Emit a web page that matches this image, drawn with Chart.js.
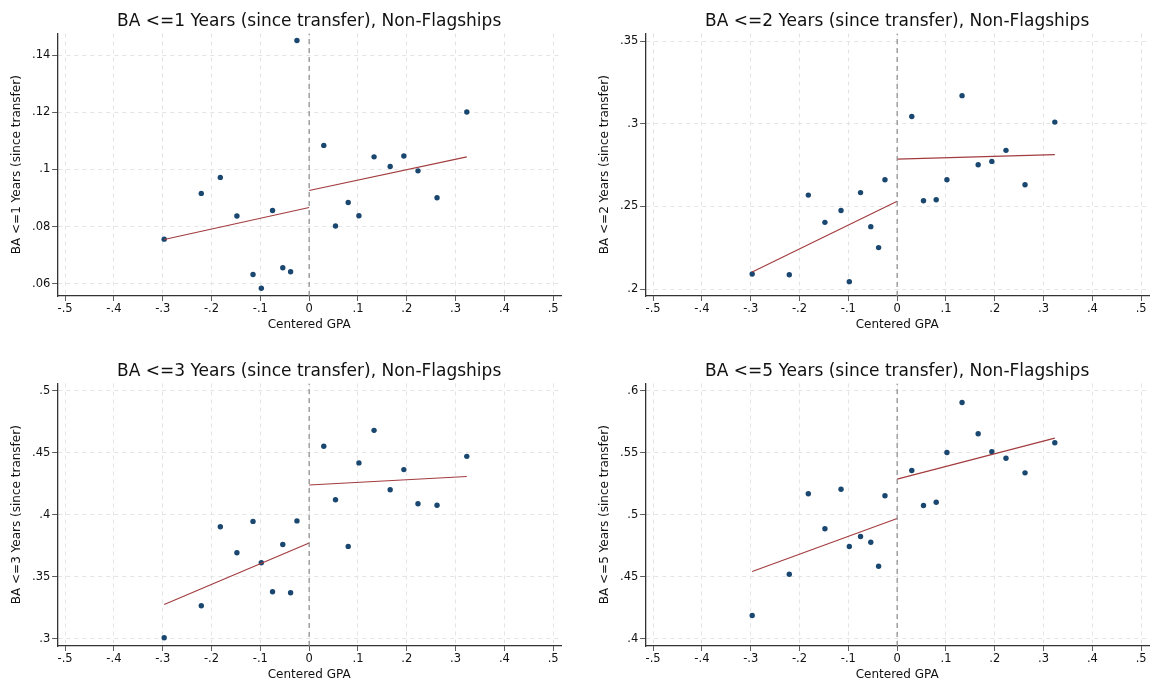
<!DOCTYPE html>
<html>
<head>
<meta charset="utf-8">
<script src="https://cdn.jsdelivr.net/npm/chart.js@4.4.1/dist/chart.umd.min.js"></script>
<style>
  body { margin: 0; background: #fff; }
  #wrap { position: relative; width: 1153px; height: 682px; }
  canvas { position: absolute; }
</style>
</head>
<body>
<div id="wrap">
  <canvas id="c1" width="565" height="340" style="left:0px;top:0px"></canvas>
  <canvas id="c2" width="565" height="340" style="left:588px;top:0px"></canvas>
  <canvas id="c3" width="565" height="340" style="left:0px;top:350px"></canvas>
  <canvas id="c4" width="565" height="340" style="left:588px;top:350px"></canvas>
</div>
<script>
// centered GPA bins (same for every panel)
var gpa = [-0.297, -0.221, -0.182, -0.148, -0.115, -0.098, -0.075, -0.054, -0.038, -0.025,
           0.030, 0.054, 0.080, 0.102, 0.133, 0.166, 0.194, 0.223, 0.262, 0.323]

var ba1 = [0.0756, 0.0916, 0.0972, 0.0837, 0.0632, 0.0584, 0.0856, 0.0656, 0.0642, 0.1451,
           0.1084, 0.0802, 0.0884, 0.0838, 0.1044, 0.1010, 0.1047, 0.0995, 0.0901, 0.1201]
var ba2 = [0.2091, 0.2087, 0.2569, 0.2404, 0.2476, 0.2045, 0.2584, 0.2378, 0.2251, 0.2662,
           0.3045, 0.2535, 0.2541, 0.2662, 0.3171, 0.2753, 0.2773, 0.2840, 0.2632, 0.3011]
var ba3 = [0.3006, 0.3265, 0.3903, 0.3693, 0.3946, 0.3612, 0.3378, 0.3760, 0.3370, 0.3950,
           0.4552, 0.4121, 0.3744, 0.4418, 0.4681, 0.4202, 0.4364, 0.4089, 0.4076, 0.4471]
var ba5 = [0.4186, 0.4519, 0.5169, 0.4886, 0.5206, 0.4743, 0.4824, 0.4778, 0.4584, 0.5153,
           0.5357, 0.5074, 0.5101, 0.5502, 0.5906, 0.5653, 0.5508, 0.5456, 0.5338, 0.5581]

// linear fit endpoints, left and right of cutoff
var fitLeftX = [-0.297, 0]
var fitRightX = [0, 0.323]
var fit1Left = [0.0755, 0.0867], fit1Right = [0.0926, 0.1044]
var fit2Left = [0.2103, 0.2531], fit2Right = [0.2787, 0.2814]
var fit3Left = [0.3275, 0.3771], fit3Right = [0.4240, 0.4309]
var fit5Left = [0.4541, 0.4969], fit5Right = [0.5287, 0.5618]

// tick labels
var xTicks = [-0.5, -0.4, -0.3, -0.2, -0.1, 0, 0.1, 0.2, 0.3, 0.4, 0.5]
var xTickLabels = ['-.5', '-.4', '-.3', '-.2', '-.1', '0', '.1', '.2', '.3', '.4', '.5']
var yTicks1 = [0.06, 0.08, 0.1, 0.12, 0.14], yTickLabels1 = ['.06', '.08', '.1', '.12', '.14']
var yTicks2 = [0.2, 0.25, 0.3, 0.35], yTickLabels2 = ['.2', '.25', '.3', '.35']
var yTicks3 = [0.3, 0.35, 0.4, 0.45, 0.5], yTickLabels3 = ['.3', '.35', '.4', '.45', '.5']
var yTicks5 = [0.4, 0.45, 0.5, 0.55, 0.6], yTickLabels5 = ['.4', '.45', '.5', '.55', '.6']

// axis ranges
var xRange = [-0.516, 0.516]
var yRange1 = [0.0557, 0.1476]
var yRange2 = [0.1958, 0.3548]
var yRange3 = [0.294, 0.506]
var yRange5 = [0.394, 0.606]

var FONT = "DejaVu Sans"
var DOT = '#1a476f'
var FIT = '#a23b3e'

function pts(xs, ys) {
  return xs.map(function (x, i) { return {x: x, y: ys[i]} })
}

function makePanel(id, title, ytitle, ys, fl, fr, yTicks, yLabels, yRange) {
  var ctx = document.getElementById(id).getContext('2d')
  new Chart(ctx, {
    type: 'scatter',
    data: {
      datasets: [
        {
          data: pts([0, 0], yRange),
          showLine: true, pointRadius: 0, borderColor: '#8a8a8a',
          borderWidth: 1.2, borderDash: [5, 4]
        },
        {
          data: pts(fitLeftX, fl),
          showLine: true, pointRadius: 0, borderColor: FIT, borderWidth: 1.1
        },
        {
          data: pts(fitRightX, fr),
          showLine: true, pointRadius: 0, borderColor: FIT, borderWidth: 1.1
        },
        {
          data: pts(gpa, ys),
          pointRadius: 2.7, pointBackgroundColor: DOT, pointBorderWidth: 0,
          borderColor: DOT
        }
      ]
    },
    options: {
      responsive: false,
      animation: false,
      layout: { padding: { left: 0, right: 1, top: 0, bottom: 0 } },
      plugins: {
        legend: { display: false },
        tooltip: { enabled: false },
        title: {
          display: true, text: title, fullSize: false, color: '#111',
          font: { family: FONT, size: 17, weight: 'normal' },
          padding: { top: 11, bottom: 2 }
        }
      },
      scales: {
        x: {
          type: 'linear', min: xRange[0], max: xRange[1],
          afterBuildTicks: function (s) { s.ticks = xTicks.map(function (v) { return {value: v} }) },
          afterFit: function (s) { s.height = 44 },
          ticks: {
            color: '#111', padding: 1, maxRotation: 0, autoSkip: false,
            font: { family: FONT, size: 11.5 },
            callback: function (v) { return xTickLabels[xTicks.indexOf(v)] }
          },
          grid: {
            color: '#e4e4e4', lineWidth: 1,
            tickColor: '#333', tickLength: 5, tickWidth: 1, tickBorderDash: [1, 0]
          },
          border: { display: true, color: '#333', width: 1.3, dash: [4, 4] },
          title: {
            display: true, text: 'Centered GPA', color: '#111',
            font: { family: FONT, size: 12 }, padding: { top: 0, bottom: 8 }
          }
        },
        y: {
          type: 'linear', min: yRange[0], max: yRange[1],
          afterBuildTicks: function (s) { s.ticks = yTicks.map(function (v) { return {value: v} }) },
          afterFit: function (s) { s.width = 57.3 },
          ticks: {
            color: '#111', padding: 2, autoSkip: false,
            font: { family: FONT, size: 11.5 },
            callback: function (v) { return yLabels[yTicks.indexOf(v)] }
          },
          grid: {
            color: '#e4e4e4', lineWidth: 1,
            tickColor: '#333', tickLength: 5, tickWidth: 1, tickBorderDash: [1, 0]
          },
          border: { display: true, color: '#333', width: 1.3, dash: [4, 4] },
          title: {
            display: true, text: ytitle, color: '#111',
            font: { family: FONT, size: 12 }, padding: { top: 10, bottom: 4 }
          }
        }
      }
    }
  })
}

makePanel('c1', 'BA <=1 Years (since transfer), Non-Flagships', 'BA <=1 Years (since transfer)',
  ba1, fit1Left, fit1Right, yTicks1, yTickLabels1, yRange1)
makePanel('c2', 'BA <=2 Years (since transfer), Non-Flagships', 'BA <=2 Years (since transfer)',
  ba2, fit2Left, fit2Right, yTicks2, yTickLabels2, yRange2)
makePanel('c3', 'BA <=3 Years (since transfer), Non-Flagships', 'BA <=3 Years (since transfer)',
  ba3, fit3Left, fit3Right, yTicks3, yTickLabels3, yRange3)
makePanel('c4', 'BA <=5 Years (since transfer), Non-Flagships', 'BA <=5 Years (since transfer)',
  ba5, fit5Left, fit5Right, yTicks5, yTickLabels5, yRange5)
</script>
</body>
</html>
